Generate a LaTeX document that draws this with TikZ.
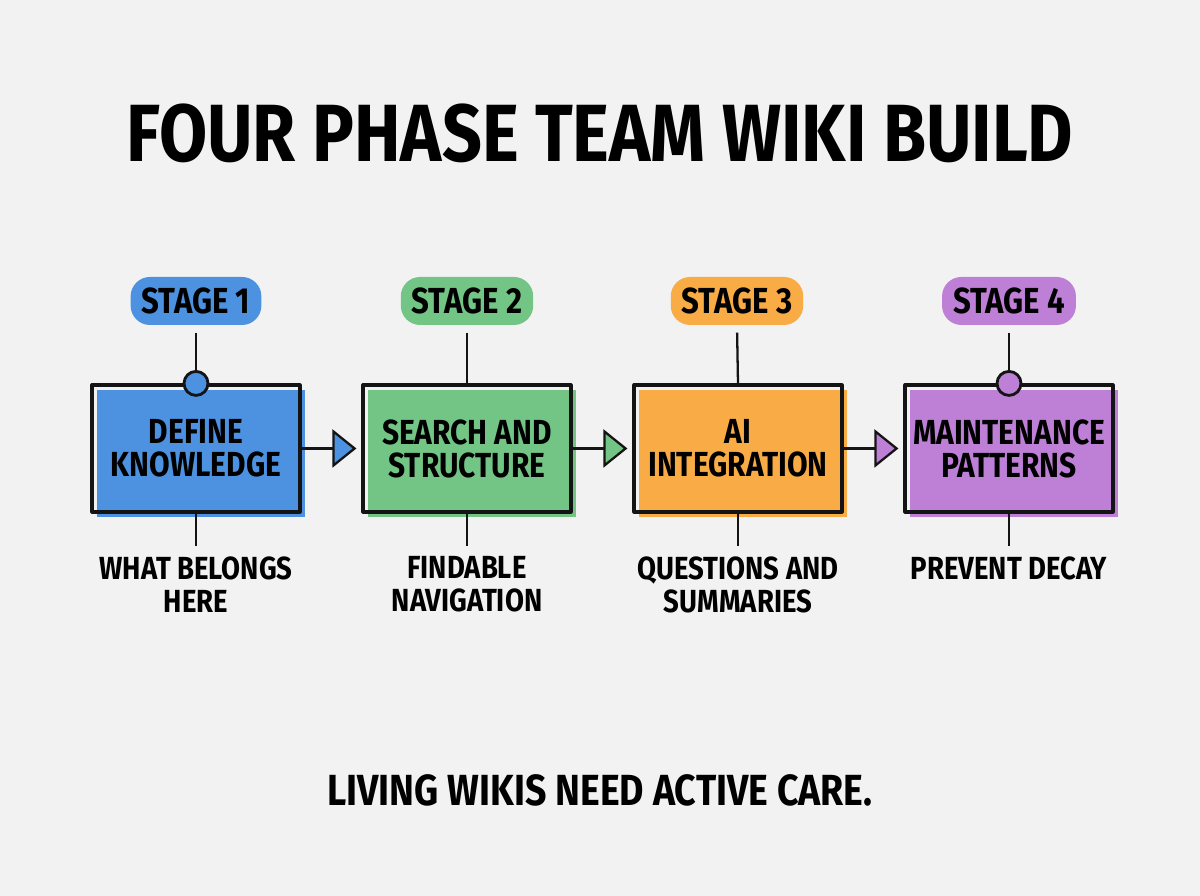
\documentclass[tikz,border=0pt]{standalone}
\usepackage{fontspec}
\usepackage{tikz}
\usetikzlibrary{arrows.meta,positioning}
\newfontfamily\handfont{Fira Sans}[FakeStretch=0.86]
\definecolor{wkbg}{RGB}{242,242,242}
\definecolor{wkblue}{RGB}{76,146,224}
\definecolor{wkgreen}{RGB}{114,197,133}
\definecolor{wkorange}{RGB}{249,172,69}
\definecolor{wkpurple}{RGB}{190,128,214}
\definecolor{wkedge}{RGB}{20,20,20}
\tikzset{
  phase/.style={
    draw=wkedge, line width=0.9pt, align=center,
    minimum width=2.08cm, minimum height=1.27cm, inner sep=2pt,
    font=\handfont\bfseries\fontsize{9.9}{9.4}\selectfont,
    preaction={fill=#1, draw=none, transform canvas={shift={(0.045,-0.055)}}}
  },
  tag/.style={
    fill=#1, rounded corners=5.5pt, inner xsep=0.11cm, inner ysep=0pt,
    minimum height=0.48cm, font=\handfont\bfseries\fontsize{10.3}{10.3}\selectfont
  },
  desc/.style={align=center, inner sep=0.1cm,
    font=\handfont\bfseries\fontsize{9.1}{9.4}\selectfont},
  knob/.style={circle, draw=wkedge, line width=0.8pt, fill=#1,
    minimum size=0.24cm, inner sep=0pt},
  link/.style={draw=wkedge, line width=0.65pt},
  flow/.style={link, shorten >=0.05cm,
    -{Triangle[length=2.4mm,width=3.8mm,fill=#1]}},
  every picture/.append style={line join=round}
}
\begin{document}
\begin{tikzpicture}[x=1cm,y=1cm]
  \fill[wkbg] (0,0) rectangle (12,8.96);
  \useasboundingbox (0,0) rectangle (12,8.96);

  % Title
  \node[font=\handfont\bfseries\fontsize{23.1}{23.1}\selectfont] (title) at (6.0,7.63) {FOUR PHASE TEAM WIKI BUILD};

  % Stage tags
  \node[tag=wkblue] (tag1) at (1.96,5.95) {STAGE 1};
  \node[tag=wkgreen] (tag2) at (4.67,5.95) {STAGE 2};
  \node[tag=wkorange] (tag3) at (7.37,5.95) {STAGE 3};
  \node[tag=wkpurple] (tag4) at (10.09,5.95) {STAGE 4};

  % Phase boxes
  \node[phase=wkblue] (define) at (1.96,4.475) {DEFINE\\KNOWLEDGE};
  \node[phase=wkgreen] (search) at (4.67,4.475) {SEARCH AND\\STRUCTURE};
  \node[phase=wkorange] (ai) at (7.38,4.475) {AI\\INTEGRATION};
  \node[phase=wkpurple] (maint) at (10.09,4.475) {MAINTENANCE\\PATTERNS};

  % Descriptions
  \node[desc, anchor=north] (what) at (1.96,3.50) {WHAT BELONGS\\HERE};
  \node[desc, anchor=north] (find) at (4.67,3.50) {FINDABLE\\NAVIGATION};
  \node[desc, anchor=north] (quest) at (7.38,3.50) {QUESTIONS AND\\SUMMARIES};
  \node[desc, anchor=north] (decay) at (10.09,3.50) {PREVENT DECAY};

  % Tag to box
  \draw[link, shorten <=0.07cm] (tag1.south) -- (define.north);
  \draw[link, shorten <=0.07cm] (tag2.south) -- (search.north);
  \draw[link, shorten <=0.07cm] (tag3.south) -- (ai.north);
  \draw[link, shorten <=0.07cm] (tag4.south) -- (maint.north);
  \node[knob=wkblue] (knob1) at (define.north) {};
  \node[knob=wkpurple] (knob4) at (maint.north) {};

  % Box to description
  \draw[link] (define.south) -- (what.north);
  \draw[link] (search.south) -- (find.north);
  \draw[link] (ai.south) -- (quest.north);
  \draw[link] (maint.south) -- (decay.north);

  % Flow
  \draw[flow=wkblue] (define) -- (search);
  \draw[flow=wkgreen] (search) -- (ai);
  \draw[flow=wkpurple] (ai) -- (maint);

  % Footer
  \node[font=\handfont\bfseries\fontsize{12.4}{12.4}\selectfont] (motto) at (6.0,1.06) {LIVING WIKIS NEED ACTIVE CARE.};
\end{tikzpicture}
\end{document}
